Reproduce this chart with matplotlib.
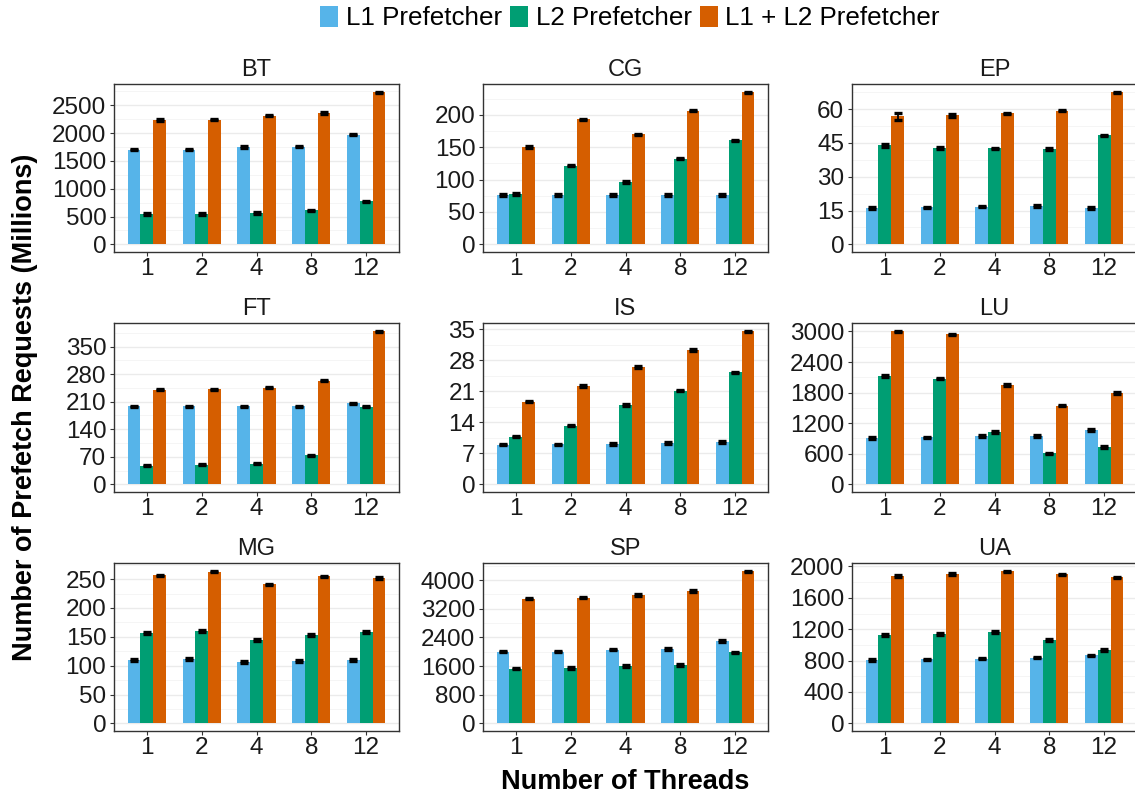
import matplotlib
matplotlib.use("Agg")
import matplotlib.pyplot as plt
from matplotlib.ticker import MultipleLocator
from matplotlib.patches import Patch
import numpy as np

plt.rcParams["font.family"] = ["Liberation Sans", "DejaVu Sans"]

# ---- data (millions of prefetch requests) ----
benchmarks = ["BT", "CG", "EP", "FT", "IS", "LU", "MG", "SP", "UA"]
threads = ["1", "2", "4", "8", "12"]
series_names = ["L1 Prefetcher", "L2 Prefetcher", "L1 + L2 Prefetcher"]
series_colors = ["#56B4E9", "#009E73", "#D55E00"]

l1 = {
    "BT": [1704, 1704, 1752, 1758, 1971],
    "CG": [76, 76, 76, 76, 76],
    "EP": [16.1, 16.5, 16.7, 17.1, 16.2],
    "FT": [198.7, 197.8, 198.7, 198.7, 206.3],
    "IS": [8.94, 9.01, 9.09, 9.31, 9.54],
    "LU": [906, 920, 946, 946, 1070],
    "MG": [110.3, 111.5, 106.9, 108.6, 110.3],
    "SP": [2000, 2000, 2056, 2074, 2306],
    "UA": [808, 816, 825, 837, 867],
}
l2 = {
    "BT": [546, 546, 564, 612, 772],
    "CG": [77.7, 121.7, 96.2, 132.5, 160.6],
    "EP": [43.9, 42.9, 42.6, 42.3, 48.4],
    "FT": [47.3, 49.9, 52.4, 73.6, 197.0],
    "IS": [10.74, 13.22, 17.88, 21.18, 25.31],
    "LU": [2126, 2074, 1024, 607, 737],
    "MG": [156.9, 160.3, 144.8, 152.9, 158.0],
    "SP": [1528, 1546, 1602, 1630, 1981],
    "UA": [1129, 1142, 1163, 1066, 939],
}
l12 = {
    "BT": [2233, 2239, 2310, 2363, 2732],
    "CG": [150.4, 192.8, 169.8, 206.6, 234.8],
    "EP": [56.8, 57.3, 58.1, 59.4, 67.5],
    "FT": [240.1, 241.8, 245.2, 263.8, 388.9],
    "IS": [18.70, 22.23, 26.51, 30.34, 34.55],
    "LU": [3000, 2941, 1950, 1546, 1793],
    "MG": [256.3, 263.2, 240.8, 254.6, 252.3],
    "SP": [3481, 3509, 3583, 3694, 4241],
    "UA": [1877, 1903, 1937, 1899, 1860],
}

# standard errors
err_l1 = {
    "BT": [12, 12, 12, 12, 12], "CG": [1.0, 1.0, 1.0, 1.0, 1.0],
    "EP": [0.4, 0.3, 0.3, 0.3, 0.3], "FT": [1.5, 1.5, 1.5, 1.5, 1.5],
    "IS": [0.15, 0.15, 0.15, 0.15, 0.15], "LU": [15, 15, 15, 15, 15],
    "MG": [1.5, 1.5, 1.5, 1.5, 1.5], "SP": [22, 22, 22, 22, 22],
    "UA": [12, 10, 10, 10, 10],
}
err_l2 = {
    "BT": [12, 12, 12, 12, 12], "CG": [1.2, 1.0, 1.0, 1.0, 1.0],
    "EP": [0.8, 0.4, 0.3, 0.3, 0.3], "FT": [1.5, 1.5, 1.5, 1.5, 1.5],
    "IS": [0.15, 0.15, 0.15, 0.15, 0.15], "LU": [15, 15, 15, 15, 15],
    "MG": [1.5, 1.5, 1.5, 1.5, 1.5], "SP": [22, 22, 22, 22, 22],
    "UA": [12, 10, 10, 10, 12],
}
err_l12 = {
    "BT": [12, 12, 12, 12, 12], "CG": [1.0, 1.0, 1.0, 1.0, 1.0],
    "EP": [1.7, 0.6, 0.3, 0.3, 0.3], "FT": [1.5, 1.5, 1.5, 1.5, 1.5],
    "IS": [0.15, 0.15, 0.15, 0.15, 0.15], "LU": [15, 15, 15, 15, 15],
    "MG": [1.5, 1.5, 1.5, 1.5, 1.5], "SP": [22, 22, 22, 22, 22],
    "UA": [10, 10, 10, 10, 10],
}

# y tick step per benchmark
tick_step = {"BT": 500, "CG": 50, "EP": 15, "FT": 70, "IS": 7,
             "LU": 600, "MG": 50, "SP": 800, "UA": 400}

# ---- layout (pixels of a 1135x796 canvas) ----
W, H = 1135, 796
fig = plt.figure(figsize=(W / 100, H / 100), dpi=100)

col_left = [114, 483, 852]
col_width = 285
row_top = [84, 323, 563]
row_bottom = [252, 492, 731]

dodge = 0.7
bw = dodge / 3
text_col = "#1a1a1a"
frame_col = "#333333"

for i, name in enumerate(benchmarks):
    r, c = divmod(i, 3)
    ax = fig.add_axes([col_left[c] / W, 1 - row_bottom[r] / H,
                       col_width / W, (row_bottom[r] - row_top[r]) / H])
    x = np.arange(len(threads))
    vals = [l1[name], l2[name], l12[name]]
    errs = [err_l1[name], err_l2[name], err_l12[name]]
    top = 0
    for k in range(3):
        xs = x + (k - 1) * bw
        v = np.array(vals[k])
        e = np.array(errs[k])
        ax.bar(xs, v, width=bw, color=series_colors[k], zorder=2, linewidth=0)
        ax.errorbar(xs, v, yerr=e, fmt="none", ecolor="black",
                    elinewidth=1.3, capsize=3.2, capthick=2.4, zorder=3)
        top = max(top, (v + e).max())
    ax.set_ylim(-0.05 * top, 1.05 * top)
    ax.set_xlim(-0.6, len(threads) - 0.4)
    ax.set_xticks(x)
    ax.set_xticklabels(threads)
    step = tick_step[name]
    ax.yaxis.set_major_locator(MultipleLocator(step))
    ax.yaxis.set_minor_locator(MultipleLocator(step / 2))
    ax.grid(axis="y", which="major", color="#EBEBEB", linewidth=1.0, zorder=0)
    ax.grid(axis="y", which="minor", color="#F4F4F4", linewidth=0.6, zorder=0)
    ax.set_axisbelow(True)
    ax.tick_params(axis="both", which="major", direction="out", length=3,
                   width=0.8, color=frame_col, labelsize=17.5, labelcolor=text_col)
    ax.tick_params(axis="y", which="minor", length=0)
    ax.tick_params(axis="y", pad=2.5)
    ax.tick_params(axis="x", pad=1.5)
    for sp in ax.spines.values():
        sp.set_color(frame_col)
        sp.set_linewidth(1.0)
    ax.set_title(name, fontsize=17, color=text_col, pad=5.5)

# shared axis labels
fig.text(25 / W, 1 - 407 / H, "Number of Prefetch Requests (Millions)",
         rotation=90, ha="center", va="center", fontsize=19.5,
         fontweight="bold", color="black")
fig.text(625 / W, 1 - 782 / H, "Number of Threads", ha="center", va="center",
         fontsize=19.5, fontweight="bold", color="black")

# legend on top
handles = [Patch(facecolor=col, edgecolor="none") for col in series_colors]
fig.legend(handles, series_names, loc="center", bbox_to_anchor=(630 / W, 1 - 18 / H),
           ncol=3, frameon=False, fontsize=18.7, handlelength=0.7,
           handleheight=0.85, handletextpad=0.28, columnspacing=0.32,
           borderpad=0, borderaxespad=0)

fig.savefig("out.png", dpi=100)
